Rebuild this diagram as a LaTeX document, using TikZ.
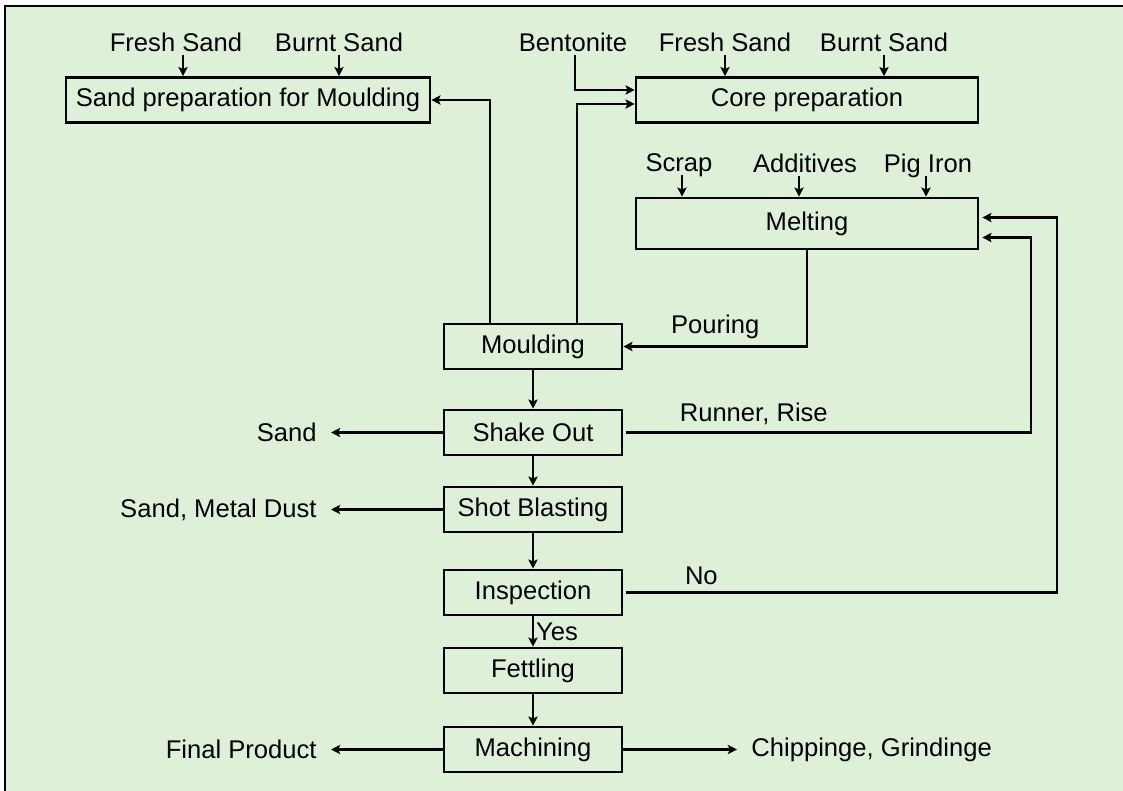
\documentclass[tikz,border=0pt]{standalone}
\usepackage{fontspec}
\setmainfont{Liberation Sans}
\usetikzlibrary{arrows.meta}
\definecolor{bgGreen}{HTML}{DFF0D8}
\tikzset{
  font=\fontsize{12.8}{15}\selectfont,
  proc/.style  ={draw, line width=1.3pt, minimum height=22.5pt, inner sep=2pt},
  colbox/.style={proc, minimum width=89pt},
  wide/.style  ={proc, minimum width=171pt},
  inp/.style   ={inner sep=1.5pt, text depth=0pt},
  side/.style  ={inner xsep=7pt, inner ysep=2pt},
  arr/.style   ={-{Stealth[length=4.6pt,width=4.6pt,inset=1pt]}, line width=1.15pt},
}

\begin{document}
\begin{tikzpicture}[x=0.5pt,y=-0.5pt]
  \useasboundingbox (0,0) rectangle (1123,791);
  % green page, ruled at top and left only
  \fill[bgGreen] (5,6) rectangle (1123,791);
  \draw[line width=0.9pt] (5,791) -- (5,6) -- (1123,6);

  % preparation and melting
  \node[proc, minimum width=182pt] (sandprep) at (248,100)   {Sand preparation for Moulding};
  \node[wide]                      (core)     at (807,100)   {Core preparation};
  \node[wide, minimum height=25.5pt] (melt)   at (807,223.5) {Melting};

  % inputs
  \node[inp] (fresh1) at (176,42)  {Fresh Sand};
  \node[inp] (burnt1) at (339,42)  {Burnt Sand};
  \node[inp] (bent)   at (573,42)  {Bentonite};
  \node[inp] (fresh2) at (725,42)  {Fresh Sand};
  \node[inp] (burnt2) at (884,42)  {Burnt Sand};
  \node[inp] (scrap)  at (679,163) {Scrap};
  \node[inp] (addit)  at (805,163) {Additives};
  \node[inp] (pig)    at (928,163) {Pig Iron};

  \draw[arr] ([xshift=3.5pt]fresh1.south) -- ([xshift=3.5pt]fresh1.south |- sandprep.north);
  \draw[arr] (burnt1.south) -- (burnt1.south |- sandprep.north);
  \draw[arr] (fresh2.south) -- (fresh2.south |- core.north);
  \draw[arr] (burnt2.south) -- (burnt2.south |- core.north);
  \draw[arr] ([xshift=1.5pt]scrap.south) -- ([xshift=1.5pt]scrap.south |- melt.north);
  \draw[arr] ([xshift=-3pt]addit.south) -- ([xshift=-3pt]addit.south |- melt.north);
  \draw[arr] ([xshift=-1pt]pig.south) -- ([xshift=-1pt]pig.south |- melt.north);
  \draw[arr] ([xshift=1pt]bent.south) |- ([yshift=5pt]core.west);

  % main line
  \node[colbox] (mould) at (533,346.5) {Moulding};
  \node[colbox] (shake) at (533,432.5) {Shake Out};
  \node[colbox] (blast) at (533,509.5) {Shot Blasting};
  \node[colbox] (insp)  at (533,592.5) {Inspection};
  \node[colbox] (fett)  at (533,670.5) {Fettling};
  \node[colbox] (mach)  at (533,749.5) {Machining};

  \draw[arr] (mould) -- (shake);
  \draw[arr] (shake) -- (blast);
  \draw[arr] (blast) -- (insp);
  \draw[arr] (insp) -- node[right, inner sep=1pt] {Yes} (fett);
  \draw[arr] (fett) -- (mach);

  % outputs
  \node[side, anchor=east] (sandout) at (331,432.5) {Sand};
  \node[side, anchor=east] (dust)    at (331,509.5) {Sand, Metal Dust};
  \node[side, anchor=east] (final)   at (331,749.5) {Final Product};
  \node[side, anchor=west] (chips)   at (737,749.5) {Chippinge, Grindinge};
  \draw[arr] (shake) -- (sandout);
  \draw[arr] (blast) -- (dust);
  \draw[arr] (mach) -- (final);
  \draw[arr] (mach) -- (chips);

  % sand and core return from moulding
  \draw[arr] ([xshift=-21.5pt]mould.north) |- (sandprep.east);
  \draw[arr] ([xshift=22pt]mould.north) |- ([yshift=-2pt]core.west);

  % pouring and the loops back to melting
  \draw[arr] (melt.south) |- node[pos=0.75, above] {Pouring} (mould.east);
  \coordinate (rr) at (1031,432.5);
  \coordinate (nr) at (1057,592.5);
  \draw[arr, shorten <=1.5pt, shorten >=1.5pt] (shake.east) -- node[pos=0.32, above] {Runner, Rise} (rr)
        |- ([yshift=-7pt]melt.east);
  \draw[arr, shorten <=1.5pt, shorten >=1.5pt] (insp.east) -- node[pos=0.18, above] {No} (nr)
        |- ([yshift=3pt]melt.east);
\end{tikzpicture}
\end{document}
